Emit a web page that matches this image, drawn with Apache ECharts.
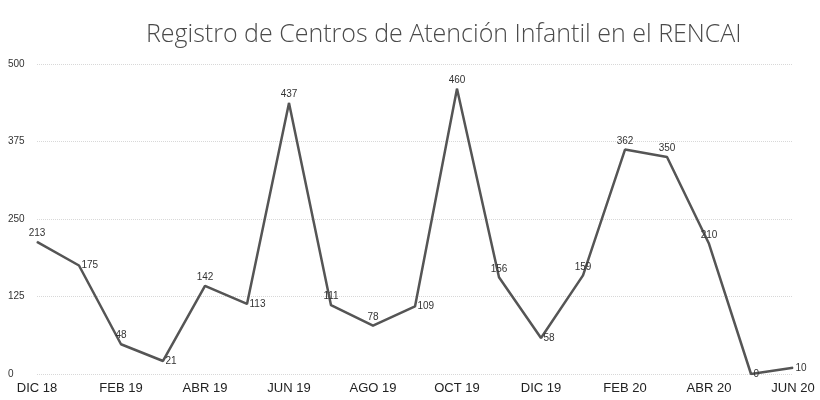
<!DOCTYPE html>
<html>
<head>
    <meta charset="utf-8" />
    <script src="https://cdn.jsdelivr.net/npm/echarts@6/dist/echarts.min.js"></script>
    <style>
        html, body { margin: 0; padding: 0; background: #fff; }
        #chart { width: 820px; height: 400px; }
    </style>
</head>
<body>
    <div id="chart"></div>
    <script type="text/javascript">
        // meses, de DIC 18 a JUN 20
        var meses = ['DIC 18', 'ENE 19', 'FEB 19', 'MAR 19', 'ABR 19', 'MAY 19', 'JUN 19', 'JUL 19',
            'AGO 19', 'SEP 19', 'OCT 19', 'NOV 19', 'DIC 19', 'ENE 20', 'FEB 20', 'MAR 20',
            'ABR 20', 'MAY 20', 'JUN 20'];
        var registros = [213, 175, 48, 21, 142, 113, 437, 111, 78, 109, 460, 156, 58, 159, 362, 350, 210, 0, 10];
        var ejeY = [0, 125, 250, 375, 500];
        // etiquetas que van a la derecha del punto en el original
        var etiquetaDerecha = [1, 3, 5, 9, 12, 17, 18];

        var myChart = echarts.init(document.getElementById('chart'));

        var datos = registros.map(function (v, i) {
            var d = { value: v };
            if (etiquetaDerecha.indexOf(i) >= 0) {
                d.label = { position: 'right', distance: 2 };
            }
            return d;
        });

        var option = {
            animation: false,
            title: {
                text: 'Registro de Centros de Atención Infantil en el RENCAI',
                left: 141,
                top: 17,
                textStyle: {
                    fontFamily: 'Open Sans',
                    fontWeight: 300,
                    fontSize: 25,
                    color: '#4a4a4a'
                }
            },
            grid: {
                left: 37,
                right: 27,
                top: 64,
                bottom: 26
            },
            xAxis: {
                type: 'category',
                data: meses,
                boundaryGap: false,
                axisLine: { show: false },
                axisTick: { show: false },
                axisLabel: {
                    interval: 1,
                    margin: 8,
                    fontFamily: 'Liberation Sans',
                    fontSize: 13,
                    color: '#222'
                }
            },
            yAxis: {
                type: 'value',
                min: ejeY[0],
                max: ejeY[ejeY.length - 1],
                interval: 125,
                axisLine: { show: false },
                axisTick: { show: false },
                axisLabel: {
                    align: 'left',
                    margin: 29,
                    fontFamily: 'Liberation Sans',
                    fontSize: 10,
                    color: '#333'
                },
                splitLine: {
                    lineStyle: { color: '#d8d8d8', type: 'dotted', width: 1 }
                }
            },
            series: [{
                name: 'Registros',
                type: 'line',
                data: datos,
                symbol: 'circle',
                symbolSize: 1,
                showSymbol: true,
                itemStyle: { color: '#555' },
                lineStyle: { color: '#555', width: 2.5 },
                label: {
                    show: true,
                    position: 'top',
                    distance: 3,
                    fontFamily: 'Liberation Sans',
                    fontSize: 10,
                    color: '#333'
                }
            }]
        };

        myChart.setOption(option);
    </script>
</body>
</html>
